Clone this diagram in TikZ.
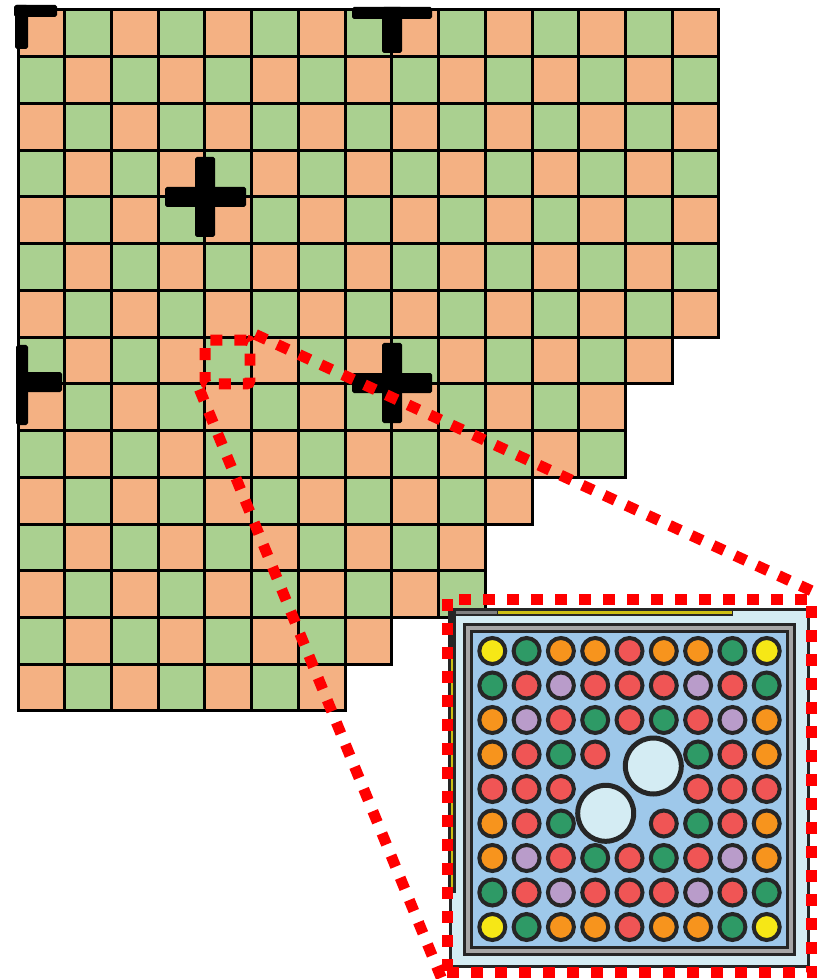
\documentclass[tikz,border=0pt]{standalone}
\usetikzlibrary{positioning}
\definecolor{cellorange}{RGB}{244,177,131}
\definecolor{cellgreen}{RGB}{170,208,144}
\definecolor{piny}{RGB}{246,231,22}
\definecolor{ping}{RGB}{46,154,102}
\definecolor{pino}{RGB}{247,148,29}
\definecolor{pinr}{RGB}{240,85,85}
\definecolor{pinp}{RGB}{185,156,202}
\definecolor{boxcyan}{RGB}{212,236,243}
\definecolor{boxblue}{RGB}{158,200,234}
\definecolor{framegray}{RGB}{38,38,38}
\definecolor{edgeyellow}{RGB}{205,192,20}

\begin{document}
\begin{tikzpicture}[x=0.02cm, y=-0.02cm,
  cell/.style={draw=black, line width=0.06cm},
  crossbar/.style={fill=black, rounded corners=1pt},
  pin/.style={circle, draw=framegray, line width=0.08cm, minimum size=0.52cm, inner sep=0pt},
  tube/.style={circle, draw=framegray, line width=0.1cm, fill=boxcyan, minimum size=1.12cm, inner sep=0pt},
  zoomline/.style={red, line width=0.22cm, dash pattern=on 0.24cm off 0.24cm}]
  \useasboundingbox (0,0) rectangle (816,979);
  % Core map (checkerboard, stepped lower right edge)
  \foreach \r/\n in {0/15,1/15,2/15,3/15,4/15,5/15,6/15,7/14,8/13,9/13,10/11,11/10,12/10,13/8,14/7}
    \foreach \c in {1,...,\n} {
      \pgfmathtruncatemacro{\s}{\r+\c}
      \ifodd\s \def\cellcol{cellorange}\else \def\cellcol{cellgreen}\fi
      \filldraw[cell, fill=\cellcol] ({18+(\c-1)*46.73},{10+\r*46.73}) rectangle ++(46.73,46.73);
    }
  % Black crosses (cut at the map edges)
  \fill[crossbar] (15,5) rectangle (28,49);
  \fill[crossbar] (14,5) rectangle (57,17);
  \fill[crossbar] (352,7) rectangle (432,19);
  \fill[crossbar] (382,7) rectangle (402,53);
  \fill[crossbar] (195,157) rectangle (215,237);
  \fill[crossbar] (165,187) rectangle (246,207);
  \fill[crossbar] (16,345) rectangle (28,425);
  \fill[crossbar] (16,372) rectangle (62,392);
  \fill[crossbar] (382,343) rectangle (402,423);
  \fill[crossbar] (352,373) rectangle (432,393);
  % Assembly close-up: outer can
  \filldraw[fill=boxcyan, draw=framegray, line width=0.06cm] (450,609) rectangle (808,966);
  \draw[framegray, line width=0.16cm] (450,612) -- (733,612);
  \draw[gray, line width=0.06cm] (452,612) -- (497,612);
  \draw[edgeyellow, line width=0.06cm] (498,612) -- (732,612);
  \draw[framegray, line width=0.16cm] (452,611) -- (452,893);
  \draw[edgeyellow, line width=0.05cm] (452,657) -- (452,892);
  % Assembly close-up: inner box
  \filldraw[fill=gray!70, draw=framegray, line width=0.06cm] (464,624) rectangle (794,954);
  \filldraw[fill=boxblue, draw=framegray, line width=0.06cm] (471,631) rectangle (787,947);
  % Fuel pins, n = no pin
  \foreach \row [count=\j from 0] in {{y,g,o,o,r,o,o,g,y},{g,r,p,r,r,r,p,r,g},{o,p,r,g,r,g,r,p,o},
      {o,r,g,r,n,n,g,r,o},{r,r,r,n,n,n,r,r,r},{o,r,g,n,n,r,g,r,o},{o,p,r,g,r,g,r,p,o},
      {g,r,p,r,r,r,p,r,g},{y,g,o,o,r,o,o,g,y}}
    \foreach \col [count=\i from 0] in \row {
      \if n\col \else
        \node[pin, fill=pin\col] (pin-\j-\i) at ({492.3+34.3*\i},{651+34.5*\j}) {};
      \fi
    }
  % Guide tubes
  \node[tube] (tube-a) at (653.3,766) {};
  \node[tube] (tube-b) at (605.7,813.3) {};
  % Zoom marks
  \node[draw, zoomline, rounded corners=2pt, minimum width=0.9cm, minimum height=0.88cm, inner sep=0pt] (zoomcell) at (227.5,362) {};
  \node[draw, zoomline, minimum width=7.3cm, minimum height=7.48cm, inner sep=0pt] (inset) at (629.5,786) {};
  \draw[zoomline] (zoomcell.north east) -- (inset.north east);
  \draw[zoomline] (zoomcell.south west) -- (inset.south west);
\end{tikzpicture}
\end{document}
